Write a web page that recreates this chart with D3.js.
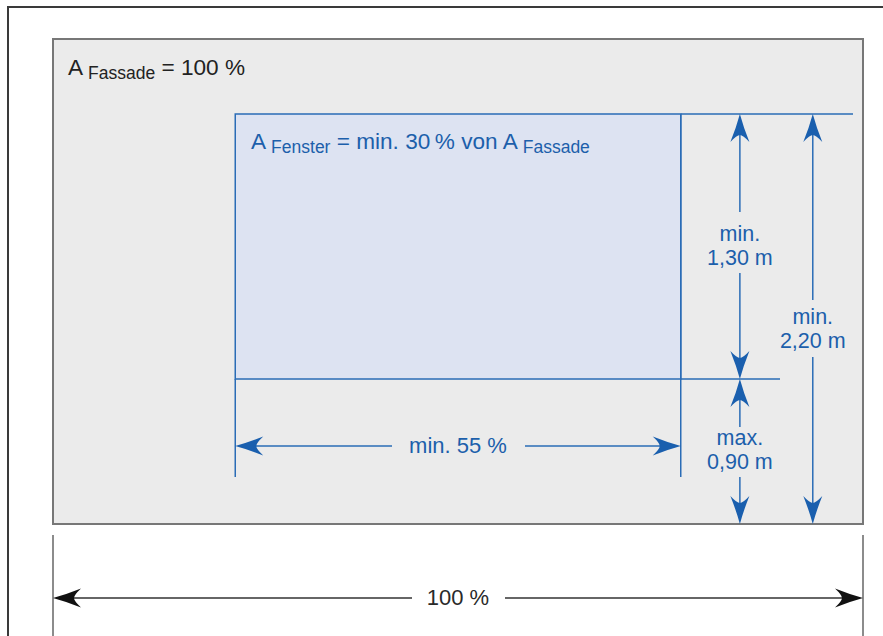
<!DOCTYPE html>
<html><head><meta charset="utf-8">
<script src="https://cdn.jsdelivr.net/npm/d3@7"></script>
<style>
html,body{margin:0;padding:0;background:#fff;}
svg{display:block;font-family:"Liberation Sans",Arial,Helvetica,sans-serif;}
</style></head>
<body>
<script>
// ---- data ----
const facadeSpanPct = [0, 100];          // facade width, percent
const windowSpanPct = [22.5, 77.5];      // window width: min. 55 %
const levelNames  = ["Boden", "Brüstung", "Sturz", "Fassade oben"];
const levelMeters = [0, 0.90, 2.20, 2.60]; // schematic heights (m)
const dimLabelTop = ["min.", "min.", "max."];
const dimLabelBot = ["1,30 m", "2,20 m", "0,90 m"];
const dimFrom = [0.90, 0, 0];
const dimTo   = [2.20, 2.20, 0.90];
const widthLabels = ["min. 55 %", "100 %"];
const titleMain = ["A", "Fassade", " = 100 %"];
const titleWin  = ["A", "Fenster", " = min. 30\u2009% von A", "Fassade"];

// ---- layout ----
const W = 883, H = 636;
const blue = "#2a6cb6", blueDark = "#1a5fae", blueText = "#1c5fab";
const svg = d3.select("body").append("svg").attr("width", W).attr("height", H);
const x = d3.scaleLinear().domain([0, 100]).range([53, 863]);
const y = d3.scaleLinear().domain(levelMeters).range([524, 379, 114, 39]);
const dimXPct = [84.8, 93.8, 84.8];

// outer frame
svg.append("path").attr("d", `M8,${H} L8,7 L${W},7`).attr("fill", "none")
  .attr("stroke", "#3a3a3a").attr("stroke-width", 2);

// facade
svg.append("rect").attr("x", x(facadeSpanPct[0])).attr("y", y(levelMeters[3]))
  .attr("width", x(facadeSpanPct[1]) - x(facadeSpanPct[0]))
  .attr("height", y(levelMeters[0]) - y(levelMeters[3]))
  .attr("fill", "#ebebeb").attr("stroke", "#777").attr("stroke-width", 2);

// window
svg.append("rect").attr("x", x(windowSpanPct[0])).attr("y", y(levelMeters[2]))
  .attr("width", x(windowSpanPct[1]) - x(windowSpanPct[0]))
  .attr("height", y(levelMeters[1]) - y(levelMeters[2]))
  .attr("fill", "#dde3f2").attr("stroke", blue).attr("stroke-width", 1.5);

function line(x1, y1, x2, y2, color, w) {
  svg.append("line").attr("x1", x1).attr("y1", y1).attr("x2", x2).attr("y2", y2)
    .attr("stroke", color).attr("stroke-width", w || 1.5);
}
// arrowhead: tip at (tx,ty), angle in degrees (0 = pointing right)
function arrow(tx, ty, angle, color) {
  svg.append("path")
    .attr("d", "M0,0 Q-13,-3.5 -28,-9.5 Q-21,-3 -21,0 Q-21,3 -28,9.5 Q-13,3.5 0,0 Z")
    .attr("transform", `translate(${tx},${ty}) rotate(${angle})`)
    .attr("fill", color);
}

// extension lines
line(x(windowSpanPct[1]), y(levelMeters[2]), 853, y(levelMeters[2]), blue);
line(x(windowSpanPct[1]), y(levelMeters[1]), 780, y(levelMeters[1]), blue);
line(x(windowSpanPct[0]), y(levelMeters[1]), x(windowSpanPct[0]), 477, blue);
line(x(windowSpanPct[1]), y(levelMeters[2]), x(windowSpanPct[1]), 477, blue);

// vertical dimensions
const gaps = [[212, 273], [300, 357], [427, 477]];
const labelBase = [241, 324, 445];
dimFrom.forEach((f, i) => {
  const dx = x(dimXPct[i]);
  const yTop = y(dimTo[i]), yBot = y(f);
  line(dx, yTop + 10, dx, gaps[i][0], blue);
  line(dx, gaps[i][1], dx, yBot - 10, blue);
  arrow(dx, yTop, -90, blueDark);
  arrow(dx, yBot, 90, blueDark);
  svg.append("text").attr("x", dx).attr("y", labelBase[i]).attr("text-anchor", "middle")
    .attr("font-size", 21.5).attr("fill", blueText).text(dimLabelTop[i]);
  svg.append("text").attr("x", dx).attr("y", labelBase[i] + 24).attr("text-anchor", "middle")
    .attr("font-size", 21.5).attr("fill", blueText).text(dimLabelBot[i]);
});

// horizontal window width dimension
{
  const yy = 446, x1 = x(windowSpanPct[0]), x2 = x(windowSpanPct[1]);
  const cx = (x1 + x2) / 2;
  line(x1 + 10, yy, 392, yy, blue);
  line(525, yy, x2 - 10, yy, blue);
  arrow(x1, yy, 180, blueDark);
  arrow(x2, yy, 0, blueDark);
  svg.append("text").attr("x", cx).attr("y", yy + 7).attr("text-anchor", "middle")
    .attr("font-size", 22).attr("fill", blueText).text(widthLabels[0]);
}

// facade width dimension
{
  const yy = 598, x1 = x(facadeSpanPct[0]), x2 = x(facadeSpanPct[1]);
  line(x1, 535, x1, H, "#666", 1.5);
  line(x2, 535, x2, H, "#666", 1.5);
  line(x1 + 10, yy, 412, yy, "#666", 2);
  line(505, yy, x2 - 10, yy, "#666", 2);
  arrow(x1, yy, 180, "#111");
  arrow(x2, yy, 0, "#111");
  svg.append("text").attr("x", 458).attr("y", yy + 7).attr("text-anchor", "middle")
    .attr("font-size", 22).attr("fill", "#2a2a2a").text(widthLabels[1]);
}

// titles
{
  const t = svg.append("text").attr("x", 68).attr("y", 75).attr("font-size", 22.6).attr("fill", "#222");
  t.append("tspan").text(titleMain[0] + " ");
  t.append("tspan").attr("font-size", 17.5).attr("dy", 4).text(titleMain[1]);
  t.append("tspan").attr("dy", -4).text(titleMain[2]);
}
{
  const t = svg.append("text").attr("x", 251).attr("y", 149).attr("font-size", 22.6).attr("fill", blueText);
  t.append("tspan").text(titleWin[0] + " ");
  t.append("tspan").attr("font-size", 17.5).attr("dy", 4).text(titleWin[1]);
  t.append("tspan").attr("dy", -4).text(titleWin[2] + " ");
  t.append("tspan").attr("font-size", 17.5).attr("dy", 4).text(titleWin[3]);
}
</script>
</body></html>
